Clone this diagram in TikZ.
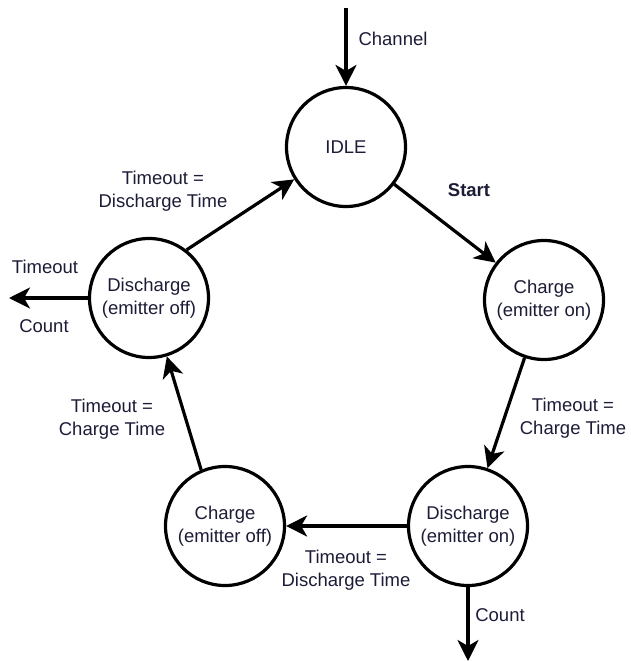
\documentclass[tikz,border=0pt]{standalone}
\usepackage{fontspec}
\setmainfont{Liberation Sans}
\usetikzlibrary{arrows.meta}
\definecolor{txt}{RGB}{28,28,55}
\tikzset{
  state/.style={circle,draw=black,line width=3.2pt,minimum size=119pt,inner sep=0pt,
    align=center,text=txt,font=\fontsize{18.5}{23}\selectfont},
  arr/.style={line width=3.2pt,-{Stealth[length=21pt,width=21pt,inset=6pt]}},
  lbl/.style={align=center,text=txt,font=\fontsize{18.5}{23}\selectfont,inner sep=0pt}
}
\begin{document}
\begin{tikzpicture}[x=1pt,y=-1pt]
\useasboundingbox (0,0) rectangle (630,661);
\node[state] (idle) at (346,147) {IDLE};
\node[state] (con) at (544,300) {Charge\\(emitter on)};
\node[state] (don) at (468,526) {Discharge\\(emitter on)};
\node[state] (coff) at (225,526) {Charge\\(emitter off)};
\node[state] (doff) at (149,298) {Discharge\\(emitter off)};
\coordinate (chin) at (346,8);
\coordinate (tout) at (9,298);
\coordinate (cout) at (468,661);
\draw[arr] (chin) -- (idle);
\draw[arr] (idle) -- (con);
\draw[arr] (con) -- (don);
\draw[arr] (don) -- (coff);
\draw[arr] (coff.113) -- (doff.287);
\draw[arr] (doff.52) -- (idle.212);
\draw[arr] (doff) -- (tout);
\draw[arr] (don) -- (cout);
\node[lbl] (lch) at (393,39) {Channel};
\node[lbl,font=\fontsize{18.5}{23}\selectfont\bfseries] (lst) at (469,190) {Start};
\node[lbl] (ltd1) at (163,191) {Timeout =\\Discharge Time};
\node[lbl] (lto) at (45,267) {Timeout};
\node[lbl] (lc1) at (44,326) {Count};
\node[lbl] (ltc1) at (112,419) {Timeout =\\Charge Time};
\node[lbl] (ltc2) at (573,418) {Timeout =\\Charge Time};
\node[lbl] (ltd2) at (346,570) {Timeout =\\Discharge Time};
\node[lbl] (lc2) at (500,615) {Count};
\end{tikzpicture}
\end{document}
